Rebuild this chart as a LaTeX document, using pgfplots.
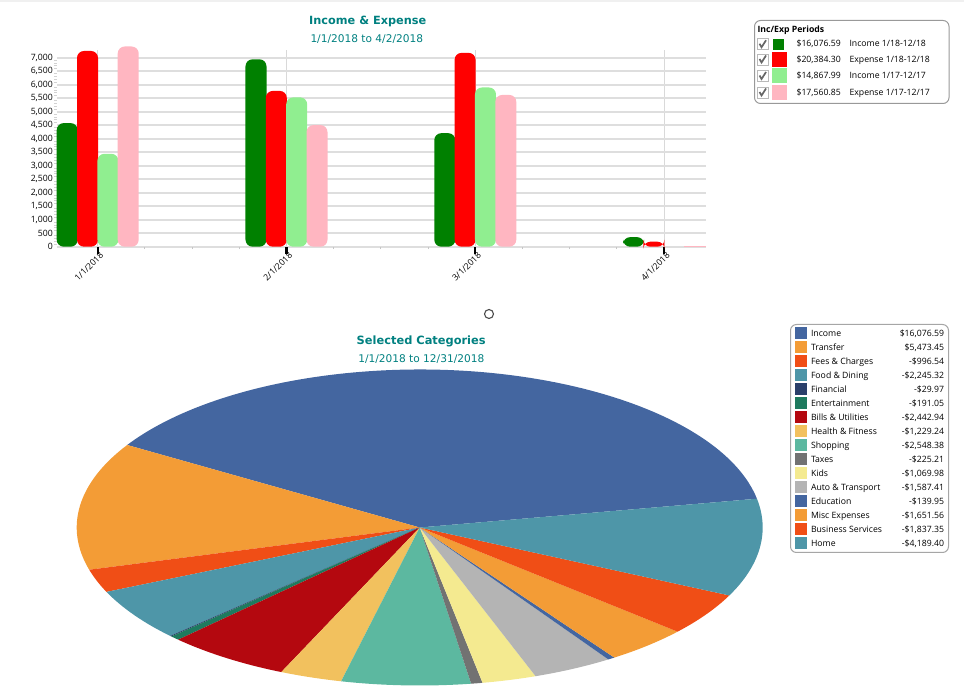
\documentclass[border=0pt]{standalone}
\usepackage{fontspec}
\setmainfont{Open Sans}
\newfontfamily\titlefont{DejaVu Sans}
\usepackage{pgfplots}
\usepackage{pgfplotstable}
\pgfplotsset{compat=1.18}

\definecolor{ttl}{RGB}{0,128,128}
\definecolor{inc18}{RGB}{0,128,0}
\definecolor{exp18}{RGB}{255,0,0}
\definecolor{inc17}{RGB}{144,238,144}
\definecolor{exp17}{RGB}{255,182,193}
\definecolor{gridc}{RGB}{222,222,222}
\definecolor{cInc}{RGB}{68,102,160}
\definecolor{cTra}{RGB}{243,156,54}
\definecolor{cFee}{RGB}{240,78,22}
\definecolor{cFoo}{RGB}{78,150,168}
\definecolor{cFin}{RGB}{42,63,106}
\definecolor{cEnt}{RGB}{30,122,94}
\definecolor{cBil}{RGB}{180,8,15}
\definecolor{cHea}{RGB}{242,193,94}
\definecolor{cSho}{RGB}{92,184,160}
\definecolor{cTax}{RGB}{114,114,114}
\definecolor{cKid}{RGB}{244,234,144}
\definecolor{cAut}{RGB}{180,180,180}

% monthly totals, x = month index (0 = 1/1/2018)
\pgfplotstableread{
month inc18   exp18   inc17   exp17
0     4578    7250    3440    7415
1     6940    5770    5530    4505
2     4205    7180    5897.99 5620.85
3     353.59  184.30  0       20
}\bars

% category totals for the pie, in legend order
\pgfplotstableread{
amount    col
16076.59  cInc
5473.45   cTra
-996.54   cFee
-2245.32  cFoo
-29.97    cFin
-191.05   cEnt
-2442.94  cBil
-1229.24  cHea
-2548.38  cSho
-225.21   cTax
-1069.98  cKid
-1587.41  cAut
-139.95   cInc
-1651.56  cTra
-1837.35  cFee
-4189.40  cFoo
}\piedata

\newcommand\smallfont{\fontsize{8.7}{10}\selectfont}
\newcommand\pieentry[2]{\makebox[133pt]{#1\hfill#2}}
\newcommand\ieentry[2]{\makebox[150pt][l]{\makebox[53pt][l]{#1}#2}}

\pgfplotsset{
  chk/.code={%
    \draw[sharp corners, gray!55, line width=0.7pt, fill=white] (0.5pt,-5.5pt) rectangle (11.5pt,5.5pt);
    \draw[sharp corners, black!60, line width=1.7pt] (3pt,0.5pt) -- (5pt,-3pt) -- (9.5pt,4pt);},
  ieimg/.style={legend image code/.code={%
    \pgfkeys{/pgfplots/chk}\fill[sharp corners, #1] (16pt,-7pt) rectangle (30pt,7pt);}},
  ieimgsmall/.style={legend image code/.code={%
    \pgfkeys{/pgfplots/chk}\fill[sharp corners, #1] (17pt,-5pt) rectangle (27pt,5pt);
    \path (30pt,0pt);}},
  pieimg/.style={legend image code/.code={%
    \fill[sharp corners, #1] (0pt,-5.5pt) rectangle (11pt,5.5pt);}},
}

\begin{document}
\begin{tikzpicture}
\useasboundingbox (0pt,0pt) rectangle (964pt,693pt);
\fill[gray!12] (0pt,690.5pt) rectangle (964pt,693pt);

% ---------------- income & expense bars ----------------
\begin{axis}[
  at={(57pt,446.3pt)}, anchor=south west,
  scale only axis, width=649pt, height=197.1pt,
  xmin=-0.2156, xmax=3.222, ymin=0, ymax=7300,
  clip=false,
  axis x line*=bottom, axis y line*=left,
  axis line style={draw=none},
  xtick={0,1,2,3},
  xticklabels={1/1/2018,2/1/2018,3/1/2018,4/1/2018},
  minor x tick num=3,
  ytick={0,500,...,7000}, minor y tick num=4,
  tick align=outside,
  major tick length=7pt, minor tick length=2.5pt,
  major x tick style={black, line width=2.2pt},
  minor x tick style={gray!45, line width=1pt},
  major y tick style={draw=none},
  minor y tick style={gray!35, line width=0.8pt},
  xmajorgrids, ymajorgrids,
  major x grid style={gray!30, line width=0.8pt},
  major y grid style={gridc, line width=2pt},
  scaled y ticks=false,
  /pgf/number format/.cd, 1000 sep={,}, assume math mode=true, /pgfplots/.cd,
  ticklabel style={font=\smallfont},
  yticklabel style={inner sep=0pt, xshift=3pt},
  xticklabel style={rotate=45, anchor=east, inner sep=0pt, xshift=3pt, yshift=-3pt},
  bar width=21pt,
  legend cell align=left,
  legend style={at={(1.074,1.1502)}, anchor=north west,
    draw=gray!80, line width=1pt, rounded corners=6pt,
    font=\smallfont, inner xsep=2pt, inner ysep=3.5pt, row sep=1.5pt,
    nodes={inner sep=0.5pt, text height=8.5pt, text depth=3pt},
    /tikz/every odd column/.append style={column sep=9pt}},
]
\addplot[ybar, fill=inc18, draw=none, bar shift=-30.5pt, rounded corners=7pt, forget plot]
  table[x=month, y=inc18] {\bars};
\addplot[ybar, fill=exp18, draw=none, bar shift=-10.2pt, rounded corners=7pt, forget plot]
  table[x=month, y=exp18] {\bars};
\addplot[ybar, fill=inc17, draw=none, bar shift=10.2pt, rounded corners=7pt, forget plot,
  restrict x to domain=-1:2.5]
  table[x=month, y=inc17] {\bars};
\addplot[ybar, fill=exp17, draw=none, bar shift=30.5pt, rounded corners=7pt, forget plot,
  restrict x to domain=-1:2.5]
  table[x=month, y=exp17] {\bars};
% April 2017 expense is only a sliver: no corner rounding
\addplot[ybar, fill=exp17, draw=exp17, line width=0.8pt, bar shift=30.5pt, forget plot,
  restrict x to domain=2.5:3.5]
  table[x=month, y=exp17] {\bars};

\addlegendimage{empty legend}
\addlegendentry{\hspace*{-39pt}\textbf{Inc/Exp Periods}}
\addlegendimage{ieimgsmall=inc18}
\addlegendentry{\ieentry{\$16,076.59}{Income 1/18-12/18}}
\addlegendimage{ieimg=exp18}
\addlegendentry{\ieentry{\$20,384.30}{Expense 1/18-12/18}}
\addlegendimage{ieimg=inc17}
\addlegendentry{\ieentry{\$14,867.99}{Income 1/17-12/17}}
\addlegendimage{ieimg=exp17}
\addlegendentry{\ieentry{\$17,560.85}{Expense 1/17-12/17}}
\end{axis}

\node[anchor=base, text=ttl, font=\titlefont\bfseries\fontsize{11.3}{13}\selectfont]
  at (367.7pt,668pt) {Income \& Expense};
\node[anchor=base, text=ttl, font=\titlefont\fontsize{10.6}{12}\selectfont]
  at (366.8pt,650pt) {1/1/2018 to 4/2/2018};

\draw[black!70, line width=1.1pt] (489pt,379pt) circle (4.5pt);

% ---------------- selected categories pie ----------------
\pgfplotstablegetrowsof{\piedata}
\pgfmathtruncatemacro\pieN{\pgfplotsretval-1}
\def\pieTotal{0}
\pgfplotsforeachungrouped \i in {0,...,\pieN}{%
  \pgfplotstablegetelem{\i}{amount}\of\piedata
  \pgfmathsetmacro\pieTotal{\pieTotal+abs(\pgfplotsretval)/1000}%
}

\begin{axis}[
  at={(76.7pt,7.5pt)}, anchor=south west,
  scale only axis, width=686pt, height=316pt,
  xmin=-1, xmax=1, ymin=-1, ymax=1,
  hide axis, clip=false,
  legend cell align=left,
  legend style={at={(1.0398,1.144)}, anchor=north west,
    draw=gray!70, line width=1pt, rounded corners=6pt,
    font=\smallfont, inner xsep=4pt, inner ysep=3pt, row sep=2pt,
    nodes={inner sep=0.5pt, text height=8.5pt, text depth=2.5pt},
    /tikz/every odd column/.append style={column sep=4pt}},
]
\def\pieA{10.5}
\pgfplotsforeachungrouped \i in {0,...,\pieN}{%
  \pgfplotstablegetelem{\i}{amount}\of\piedata
  \pgfmathsetmacro\pieB{\pieA+abs(\pgfplotsretval)/1000/\pieTotal*360}%
  \pgfplotstablegetelem{\i}{col}\of\piedata
  \edef\pieDraw{\noexpand\fill[\pgfplotsretval] (axis cs:0,0) -- ++(\pieA:343pt and 158pt)
    arc[start angle=\pieA, end angle=\pieB, x radius=343pt, y radius=158pt] -- cycle;}%
  \pieDraw
  \let\pieA\pieB
}

\addlegendimage{pieimg=cInc}\addlegendentry{\pieentry{Income}{\$16,076.59}}
\addlegendimage{pieimg=cTra}\addlegendentry{\pieentry{Transfer}{\$5,473.45}}
\addlegendimage{pieimg=cFee}\addlegendentry{\pieentry{Fees \& Charges}{-\$996.54}}
\addlegendimage{pieimg=cFoo}\addlegendentry{\pieentry{Food \& Dining}{-\$2,245.32}}
\addlegendimage{pieimg=cFin}\addlegendentry{\pieentry{Financial}{-\$29.97}}
\addlegendimage{pieimg=cEnt}\addlegendentry{\pieentry{Entertainment}{-\$191.05}}
\addlegendimage{pieimg=cBil}\addlegendentry{\pieentry{Bills \& Utilities}{-\$2,442.94}}
\addlegendimage{pieimg=cHea}\addlegendentry{\pieentry{Health \& Fitness}{-\$1,229.24}}
\addlegendimage{pieimg=cSho}\addlegendentry{\pieentry{Shopping}{-\$2,548.38}}
\addlegendimage{pieimg=cTax}\addlegendentry{\pieentry{Taxes}{-\$225.21}}
\addlegendimage{pieimg=cKid}\addlegendentry{\pieentry{Kids}{-\$1,069.98}}
\addlegendimage{pieimg=cAut}\addlegendentry{\pieentry{Auto \& Transport}{-\$1,587.41}}
\addlegendimage{pieimg=cInc}\addlegendentry{\pieentry{Education}{-\$139.95}}
\addlegendimage{pieimg=cTra}\addlegendentry{\pieentry{Misc Expenses}{-\$1,651.56}}
\addlegendimage{pieimg=cFee}\addlegendentry{\pieentry{Business Services}{-\$1,837.35}}
\addlegendimage{pieimg=cFoo}\addlegendentry{\pieentry{Home}{-\$4,189.40}}
\end{axis}

\node[anchor=base, text=ttl, font=\titlefont\bfseries\fontsize{11.4}{13}\selectfont]
  at (421.2pt,348pt) {Selected Categories};
\node[anchor=base, text=ttl, font=\titlefont\fontsize{10.6}{12}\selectfont]
  at (421.3pt,330pt) {1/1/2018 to 12/31/2018};
\end{tikzpicture}
\end{document}
